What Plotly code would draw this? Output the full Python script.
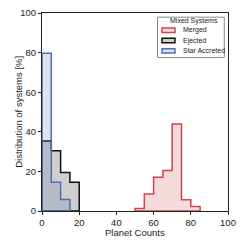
import plotly.graph_objects as go

bin_edges = [0, 5, 10, 15, 20, 25, 30, 35, 40, 45, 50, 55, 60, 65, 70, 75, 80, 85, 90, 95, 100]
merged = [0, 0, 0, 0, 0, 0, 0, 0, 0, 0, 1.2, 8.6, 17.1, 20.5, 44.0, 5.7, 2.3, 0, 0, 0]
ejected = [35.3, 30.4, 19.4, 14.5, 0, 0, 0, 0, 0, 0, 0, 0, 0, 0, 0, 0, 0, 0, 0, 0]
star_accreted = [79.7, 14.5, 5.8, 0, 0, 0, 0, 0, 0, 0, 0, 0, 0, 0, 0, 0, 0, 0, 0, 0]

series_names = ["Merged", "Ejected", "Star Accreted"]
line_colors = ["#C9474D", "#111111", "#4C72B0"]
fill_colors = ["rgba(201,71,77,0.2)", "rgba(17,17,17,0.2)", "rgba(76,114,176,0.2)"]
series_values = [merged, ejected, star_accreted]


def step_outline(edges, vals):
    nz = [i for i, v in enumerate(vals) if v > 0]
    a, b = nz[0], nz[-1]
    xs = [edges[a]]
    ys = [0]
    for i in range(a, b + 1):
        xs += [edges[i], edges[i + 1]]
        ys += [vals[i], vals[i]]
    xs += [edges[b + 1], edges[a]]
    ys += [0, 0]
    return xs, ys


fig = go.Figure()
for name, vals, lc, fc in zip(series_names, series_values, line_colors, fill_colors):
    xs, ys = step_outline(bin_edges, vals)
    fig.add_trace(go.Scatter(x=xs, y=ys, mode="lines", fill="toself", fillcolor=fc,
                             line=dict(color=lc, width=1.5), name=name,
                             showlegend=False, hoverinfo="skip"))

font = "Liberation Sans, Arial, sans-serif"

shapes = [dict(type="rect", xref="x", yref="y", x0=62.1, x1=98.0, y0=77.5, y1=97.9,
               line=dict(color="#8a8a8a", width=1), fillcolor="white", layer="above")]
annotations = [dict(x=81.5, y=96.0, xref="x", yref="y", text="Mixed Systems", showarrow=False,
                    font=dict(family=font, size=7, color="#222"), xanchor="center", yanchor="middle"),
               dict(x=-0.13, y=0.5, xref="paper", yref="paper", text="Distribution of systems [%]",
                    textangle=-90, showarrow=False, xanchor="center", yanchor="middle",
                    font=dict(family=font, size=9.5, color="#222")),
               dict(x=0.5, y=-0.107, xref="paper", yref="paper", text="Planet Counts",
                    showarrow=False, xanchor="center", yanchor="middle",
                    font=dict(family=font, size=9.5, color="#222"))]
row_y = [91.3, 86.1, 80.9]
for name, lc, fc, yy in zip(series_names, line_colors, fill_colors, row_y):
    shapes.append(dict(type="rect", xref="x", yref="y", x0=64.5, x1=71.5, y0=yy - 1.1, y1=yy + 1.1,
                       line=dict(color=lc, width=1.5), fillcolor=fc, layer="above"))
    annotations.append(dict(x=74.6, y=yy, xref="x", yref="y", text=name, showarrow=False,
                            font=dict(family=font, size=7, color="#222"),
                            xanchor="left", yanchor="middle"))

axis_common = dict(range=[0, 100], tickvals=[0, 20, 40, 60, 80, 100], showgrid=False, zeroline=False,
                   showline=True, linecolor="#222", linewidth=1, mirror=True,
                   ticks="outside", ticklen=3, tickwidth=1, tickcolor="#222", automargin=False,
                   tickfont=dict(family=font, size=9.5, color="#222"))

fig.update_layout(
    width=245, height=245,
    margin=dict(l=42, r=17, t=13, b=34, autoexpand=False),
    paper_bgcolor="white", plot_bgcolor="white",
    xaxis=axis_common,
    yaxis=axis_common,
    shapes=shapes, annotations=annotations, showlegend=False,
)

fig.write_html("out.html", config={"displayModeBar": False},
               post_script="document.body.style.margin='0px';")
